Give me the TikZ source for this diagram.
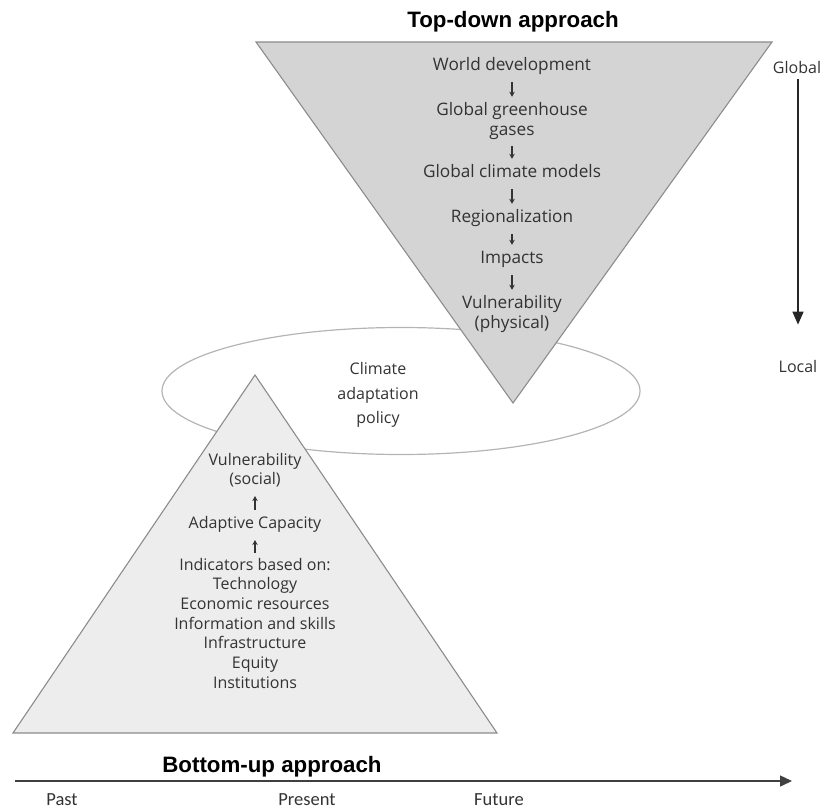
\documentclass[tikz,border=0pt]{standalone}
\usepackage{fontspec}
\setmainfont{Open Sans}
\newfontfamily\titlefont{Liberation Sans}
\newfontfamily\axisfont{Carlito}
\usetikzlibrary{arrows.meta}
\definecolor{txt}{HTML}{333333}
\definecolor{topfill}{HTML}{D4D4D4}
\definecolor{botfill}{HTML}{EDEDED}
\definecolor{edge}{HTML}{8C8C8C}
\definecolor{ringcol}{HTML}{B4B4B4}
\tikzset{
  body/.style={text=txt, inner sep=0pt, align=center,
    execute at begin node=\strut, execute at end node=\strut},
  topbody/.style={body, font=\fontsize{17.2}{20}\selectfont},
  botbody/.style={body, font=\fontsize{16}{19.7}\selectfont},
  ringtext/.style={font=\fontsize{16}{24.5}\selectfont, text=txt, inner sep=0pt, align=center},
  sidetext/.style={font=\fontsize{16}{18}\selectfont, text=txt, inner sep=0pt},
  axistext/.style={font=\axisfont\fontsize{18.5}{22}\selectfont, text=txt, inner sep=0pt},
  titletext/.style={font=\titlefont\bfseries\fontsize{22.3}{25}\selectfont, text=black, inner sep=0pt},
  sarrow/.style={-{Stealth[length=5pt,width=5.5pt]}, line width=1.3pt, draw=txt},
  bigarrow/.style={-{Triangle[length=13pt,width=11pt]}, line width=1.3pt, draw=black!85},
  tri/.style={draw=edge, line width=1.1pt, line join=miter},
}
\begin{document}
\begin{tikzpicture}[x=1pt,y=-1pt]
\useasboundingbox (0,0) rectangle (824,810);

% ring
\draw[ringcol, line width=1.2pt] (401,391) ellipse [x radius=239, y radius=63.5];

% bottom triangle
\filldraw[tri, fill=botfill] (255,375) -- (497,733) -- (13,733) -- cycle;
% top triangle
\filldraw[tri, fill=topfill] (256,42) -- (772,42) -- (513,403) -- cycle;

% titles
\node[titletext] (tdtitle) at (513,22) {Top-down approach};
\node[titletext] (butitle) at (272,767) {Bottom-up approach};

% top-down chain
\node[topbody] (wd)  at (512,67)    {World development};
\node[topbody] (ggg) at (512,121.5) {Global greenhouse\\gases};
\node[topbody] (gcm) at (512,174)   {Global climate models};
\node[topbody] (reg) at (512,219)   {Regionalization};
\node[topbody] (imp) at (512,260)   {Impacts};
\node[topbody] (vph) at (512,314.5) {Vulnerability\\(physical)};
\begin{scope}[shorten <=5pt, shorten >=5pt]
\draw[sarrow] (wd)  -- (ggg);
\draw[sarrow] (ggg) -- (gcm);
\draw[sarrow] (gcm) -- (reg);
\draw[sarrow] (reg) -- (imp);
\draw[sarrow] (imp) -- (vph);
\end{scope}

% policy
\node[ringtext] (pol) at (378,395) {Climate\\adaptation\\policy};

% bottom-up chain
\node[botbody] (vs)  at (255,472) {Vulnerability\\(social)};
\node[botbody] (ac)  at (255,525) {Adaptive Capacity};
\node[botbody] (ind) at (255,626) {Indicators based on:\\Technology\\Economic resources\\Information and skills\\Infrastructure\\Equity\\Institutions};
\begin{scope}[shorten <=5pt, shorten >=5pt]
\draw[sarrow] (ac)  -- (vs);
\draw[sarrow] (ind) -- (ac);
\end{scope}

% global -> local
\node[sidetext] (glob) at (797,68) {Global};
\node[sidetext] (loc)  at (798,366) {Local};
\draw[bigarrow, shorten <=5pt, shorten >=35pt] (glob.south -| loc.north) -- (loc.north);

% time axis
\coordinate (axS) at (15,781);
\coordinate (axE) at (792,781);
\draw[-{Triangle[length=12pt,width=11pt]}, line width=1.4pt, draw=black!75] (axS) -- (axE);
\node[axistext] (past) at (62,800)  {Past};
\node[axistext] (pres) at (307,800) {Present};
\node[axistext] (fut)  at (499,800) {Future};
\end{tikzpicture}
\end{document}
